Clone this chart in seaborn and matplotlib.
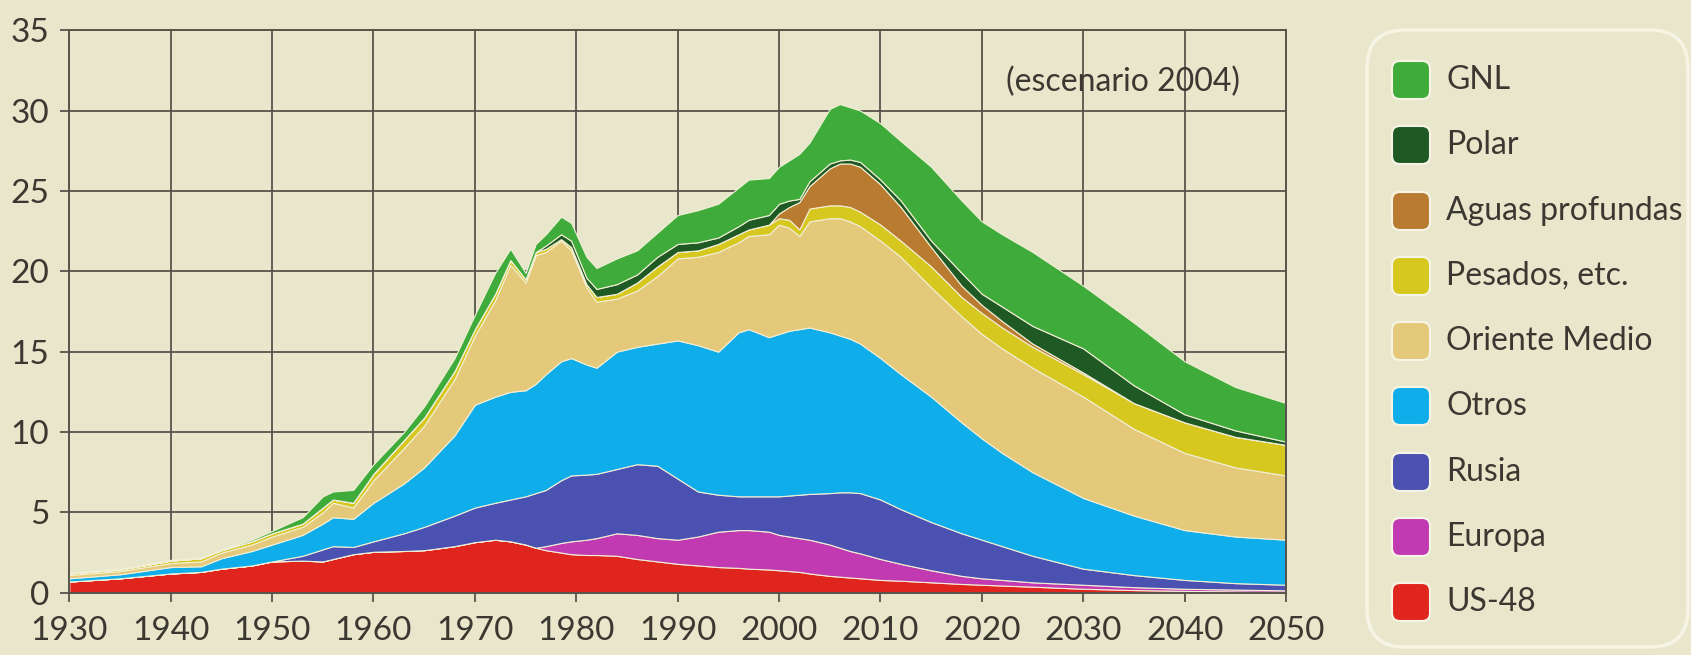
import numpy as np
import matplotlib
matplotlib.use("Agg")
import matplotlib.pyplot as plt
import seaborn as sns
from matplotlib.patches import FancyBboxPatch

# ---------------- data (stacked tops) ----------------
years = [1930, 1935, 1940, 1943, 1945, 1948, 1950, 1953, 1955, 1956, 1958, 1960,
         1963, 1965, 1968, 1970, 1972, 1973.5, 1975, 1976, 1977, 1978.5, 1979.5,
         1981, 1982, 1984, 1986, 1988, 1990, 1992, 1994, 1996, 1997, 1999, 2000,
         2001, 2002, 2003, 2005, 2006, 2007, 2008, 2010, 2012, 2015, 2018, 2020,
         2022, 2025, 2030, 2035, 2040, 2045, 2050]

us48_top = [0.7, 0.9, 1.2, 1.3, 1.5, 1.7, 1.95, 2.0, 1.95, 2.1, 2.4, 2.55,
            2.6, 2.65, 2.9, 3.15, 3.3, 3.2, 3.0, 2.8, 2.65, 2.5, 2.4,
            2.35, 2.35, 2.3, 2.1, 1.95, 1.8, 1.7, 1.6, 1.55, 1.5, 1.45, 1.4,
            1.35, 1.3, 1.2, 1.05, 1.0, 0.95, 0.9, 0.8, 0.75, 0.65, 0.55, 0.5,
            0.45, 0.38, 0.25, 0.17, 0.12, 0.08, 0.05]
europa_top = [0.7, 0.9, 1.2, 1.3, 1.5, 1.7, 1.95, 2.0, 1.95, 2.1, 2.4, 2.55,
              2.6, 2.65, 2.9, 3.15, 3.3, 3.2, 3.0, 2.8, 2.9, 3.1, 3.2,
              3.3, 3.4, 3.7, 3.6, 3.4, 3.3, 3.5, 3.8, 3.9, 3.9, 3.8, 3.6,
              3.5, 3.4, 3.3, 3.0, 2.8, 2.6, 2.45, 2.1, 1.8, 1.4, 1.05, 0.9,
              0.8, 0.65, 0.5, 0.35, 0.25, 0.2, 0.15]
rusia_top = [0.7, 0.9, 1.2, 1.3, 1.5, 1.7, 1.95, 2.3, 2.7, 2.9, 2.85, 3.2,
             3.7, 4.1, 4.8, 5.3, 5.6, 5.8, 6.0, 6.2, 6.4, 7.0, 7.3,
             7.35, 7.4, 7.7, 8.0, 7.9, 7.1, 6.3, 6.1, 6.0, 6.0, 6.0, 6.0,
             6.05, 6.1, 6.15, 6.2, 6.25, 6.25, 6.2, 5.8, 5.2, 4.4, 3.7, 3.3,
             2.9, 2.3, 1.5, 1.1, 0.8, 0.6, 0.5]
otros_top = [0.9, 1.15, 1.6, 1.65, 2.15, 2.6, 3.0, 3.6, 4.3, 4.7, 4.6, 5.6,
             6.8, 7.8, 9.8, 11.7, 12.2, 12.5, 12.6, 13.0, 13.6, 14.4, 14.6,
             14.2, 14.0, 15.0, 15.3, 15.5, 15.7, 15.4, 15.0, 16.2, 16.4, 15.9, 16.1,
             16.3, 16.4, 16.5, 16.2, 16.0, 15.8, 15.5, 14.6, 13.6, 12.2, 10.6, 9.6,
             8.7, 7.5, 5.9, 4.8, 3.9, 3.5, 3.3]
oriente_top = [1.1, 1.35, 1.85, 1.95, 2.5, 3.0, 3.5, 4.1, 5.0, 5.6, 5.3, 7.0,
               9.0, 10.4, 13.3, 16.0, 18.2, 20.4, 19.3, 21.0, 21.2, 21.9, 21.3,
               19.0, 18.1, 18.3, 18.8, 19.7, 20.8, 20.9, 21.2, 21.8, 22.2, 22.3, 22.9,
               22.7, 22.2, 23.1, 23.3, 23.3, 23.1, 22.8, 21.9, 20.9, 19.0, 17.2, 16.1,
               15.2, 14.0, 12.2, 10.2, 8.7, 7.8, 7.3]
pesados_top = [1.2, 1.45, 2.0, 2.15, 2.65, 3.2, 3.7, 4.3, 5.3, 5.8, 5.6, 7.4,
               9.5, 10.9, 13.8, 16.4, 18.6, 20.7, 19.5, 21.2, 21.4, 22.0, 21.5,
               19.2, 18.4, 18.6, 19.3, 20.3, 21.2, 21.3, 21.7, 22.3, 22.6, 22.9, 23.3,
               23.2, 22.6, 23.9, 24.1, 24.1, 24.0, 23.7, 22.9, 21.9, 20.3, 18.4, 17.4,
               16.5, 15.3, 13.6, 11.8, 10.6, 9.7, 9.2]
aguas_top = [1.2, 1.45, 2.0, 2.15, 2.65, 3.2, 3.7, 4.3, 5.3, 5.8, 5.6, 7.4,
             9.5, 10.9, 13.8, 16.4, 18.6, 20.7, 19.5, 21.2, 21.4, 22.0, 21.5,
             19.2, 18.4, 18.6, 19.3, 20.3, 21.2, 21.3, 21.7, 22.3, 22.6, 22.9, 23.6,
             24.0, 24.3, 25.3, 26.4, 26.7, 26.7, 26.5, 25.4, 24.0, 21.5, 19.1, 17.9,
             16.9, 15.5, 13.7, 11.8, 10.6, 9.7, 9.2]
polar_top = [1.2, 1.45, 2.0, 2.15, 2.65, 3.2, 3.7, 4.3, 5.3, 5.8, 5.6, 7.4,
             9.5, 10.9, 13.8, 16.4, 18.6, 20.7, 19.5, 21.2, 21.6, 22.3, 21.9,
             19.6, 18.9, 19.2, 19.8, 20.9, 21.7, 21.8, 22.1, 22.8, 23.2, 23.5, 24.2,
             24.4, 24.5, 25.6, 26.7, 26.9, 26.95, 26.8, 25.7, 24.4, 21.9, 19.9, 18.6,
             17.8, 16.6, 15.2, 12.9, 11.1, 10.1, 9.4]
gnl_top = [1.25, 1.5, 2.05, 2.2, 2.7, 3.3, 3.85, 4.7, 6.0, 6.3, 6.4, 8.0,
           10.0, 11.6, 14.6, 17.3, 19.9, 21.4, 19.9, 21.7, 22.3, 23.4, 23.0,
           20.9, 20.2, 20.8, 21.3, 22.4, 23.5, 23.8, 24.2, 25.2, 25.7, 25.8, 26.5,
           26.9, 27.3, 28.0, 30.1, 30.4, 30.2, 30.0, 29.2, 28.1, 26.5, 24.4, 23.1,
           22.3, 21.2, 19.1, 16.8, 14.4, 12.8, 11.8]

series_names = ["US-48", "Europa", "Rusia", "Otros", "Oriente Medio",
                "Pesados, etc.", "Aguas profundas", "Polar", "GNL"]
series_colors = ["#e0251f", "#c23ab2", "#4b51b0", "#0fadea", "#e4c97a",
                 "#d6c81f", "#b97b30", "#1f5a24", "#3eab3a"]

x_ticks = [1930, 1940, 1950, 1960, 1970, 1980, 1990, 2000, 2010, 2020, 2030, 2040, 2050]
y_ticks = [0, 5, 10, 15, 20, 25, 30, 35]
note_text = "(escenario 2004)"

# ---------------- styling ----------------
bg = "#e9e7cb"
grid_c = "#57534a"
text_c = "#3b3731"

sns.set_theme(style="white")
plt.rcParams['font.family'] = ['Lato', 'DejaVu Sans']

tops = np.array([us48_top, europa_top, rusia_top, otros_top, oriente_top,
                 pesados_top, aguas_top, polar_top, gnl_top])
layers = np.clip(np.diff(np.vstack([np.zeros(len(years)), tops]), axis=0), 0, None)

fig = plt.figure(figsize=(16.91, 6.55), dpi=100, facecolor=bg)
ax = fig.add_axes([0.041, 0.095, 0.7195, 0.859])
ax.set_facecolor(bg)
ax.set_axisbelow(True)

ax.stackplot(years, layers, colors=series_colors, edgecolor="#f2efd6",
             linewidth=0.8, zorder=2)

ax.set_xlim(1930, 2050)
ax.set_ylim(0, 35)
ax.set_xticks(x_ticks)
ax.set_yticks(y_ticks)
ax.grid(True, color=grid_c, linewidth=1.3)
for s in ax.spines.values():
    s.set_color(grid_c)
    s.set_linewidth(1.4)
    s.set_visible(True)
ax.spines['left'].set_zorder(3)
ax.spines['bottom'].set_zorder(3)
ax.tick_params(axis='both', colors=grid_c, labelcolor=text_c, labelsize=24,
               length=6.5, width=1.3, direction='out', bottom=True, left=True)
ax.tick_params(axis='x', pad=10)
ax.tick_params(axis='y', pad=8)

ax.text(2045.5, 31.8, note_text, ha='right', va='center', fontsize=23,
        color=text_c, zorder=4)

# ---------------- legend (drawn in inch coordinates) ----------------
tr = fig.dpi_scale_trans
box = FancyBboxPatch((13.67, 0.08), 3.21, 6.17,
                     boxstyle="round,pad=0,rounding_size=0.38",
                     transform=tr, facecolor="none", edgecolor="#f6f4e4",
                     linewidth=2.5, clip_on=False)
fig.patches.append(box)

row_y_px = [80, 145, 211, 276, 341, 406, 472, 537, 602]
for name, col, ypx in zip(series_names[::-1], series_colors[::-1], row_y_px):
    yc = (655 - ypx) / 100.0
    sw = FancyBboxPatch((13.92, yc - 0.19), 0.38, 0.38,
                        boxstyle="round,pad=0,rounding_size=0.08",
                        transform=tr, facecolor=col, edgecolor="#f6f4e4",
                        linewidth=1.5, clip_on=False)
    fig.patches.append(sw)
    fig.text(14.46 / 16.91, yc / 6.55, name, ha='left', va='center',
             fontsize=23, color=text_c)

fig.savefig("out.png", dpi=100, facecolor=bg)
